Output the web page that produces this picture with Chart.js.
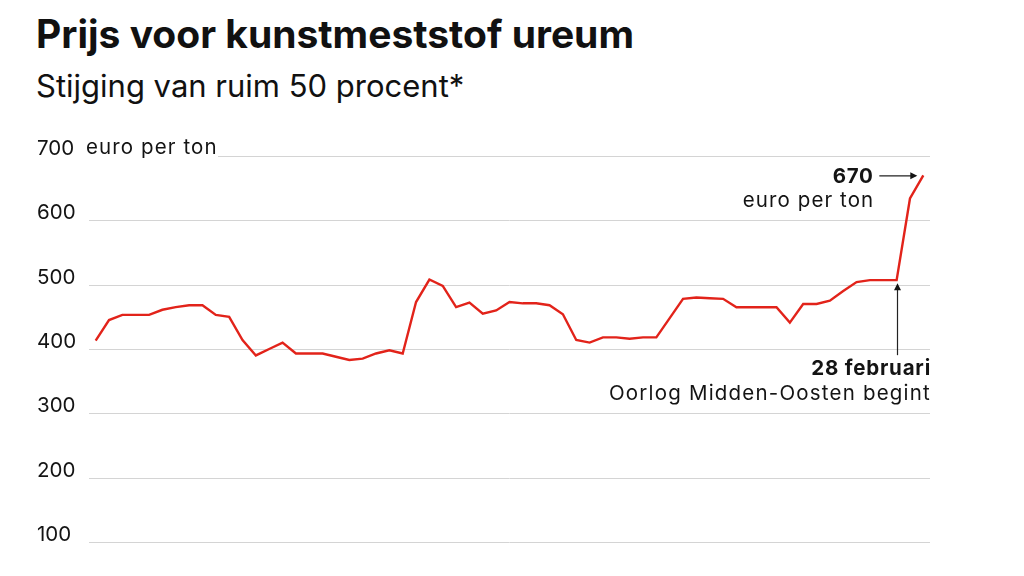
<!DOCTYPE html>
<html><head><meta charset="utf-8">
<script src="https://cdn.jsdelivr.net/npm/chart.js@4"></script>
<style>
html,body{margin:0;padding:0;background:#fff;}
#wrap{position:relative;width:1024px;height:576px;overflow:hidden;}
#title{position:absolute;left:36px;top:14px;font:700 39px Inter,sans-serif;line-height:1;color:#111;white-space:nowrap;}
#sub{position:absolute;left:36px;top:70px;font:400 31px Inter,sans-serif;line-height:1;color:#111;white-space:nowrap;}
canvas{position:absolute;left:0;top:0;}
</style></head>
<body><div id="wrap">
<div id="title">Prijs voor kunstmeststof ureum</div>
<div id="sub">Stijging van ruim 50 procent*</div>
<canvas id="c" width="1024" height="576"></canvas>
</div>
<script>
const weeks = ["1","2","3","4","5","6","7","8","9","10","11","12","13","14","15","16","17","18","19","20","21","22","23","24","25","26","27","28","29","30","31","32","33","34","35","36","37","38","39","40","41","42","43","44","45","46","47","48","49","50","51","52","53","54","55","56","57","58","59","60","61","62","63"];
const prices = [413,445,453,453,453,461,465,468,468,453,450,414,390,400,410,393,393,393,388,383,385,393,398,393,473,508,498,465,472,455,460,473,471,471,468,454,414,410,418,418,416,418,418,448,478,480,479,478,465,465,465,465,441,470,470,475,490,504,507,507,507,634,670];
const yTicks = [100,200,300,400,500,600,700];
const unitLabel = "euro per ton";
const eventIndex = 60;
const eventLabel = ["28 februari","Oorlog Midden-Oosten begint"];
const lastLabel = ["670","euro per ton"];

const ink = '#141414';
const FONT = 'Inter, sans-serif';
const gridPlugin = {
  id:'grid',
  beforeDatasetsDraw(chart){
    const {ctx, chartArea:a, scales:{y}} = chart;
    ctx.save();
    ctx.strokeStyle = '#d4d4d4'; ctx.lineWidth = 1;
    ctx.fillStyle = ink;
    ctx.textBaseline = 'alphabetic'; ctx.textAlign = 'left';
    yTicks.forEach(v=>{
      const py = Math.round(y.getPixelForValue(v))+0.5;
      let x0 = a.left;
      ctx.font = '400 20.5px ' + FONT; ctx.letterSpacing = '0px';
      ctx.fillText(String(v), 37, py-1.5);
      if(v===700){
        ctx.letterSpacing = '1.1px';
        ctx.fillText(unitLabel, 86, py-2.5);
        x0 = 218;
      }
      ctx.beginPath(); ctx.moveTo(x0,py); ctx.lineTo(a.right,py); ctx.stroke();
    });
    ctx.restore();
  },
  afterDatasetsDraw(chart){
    const {ctx, scales:{x,y}} = chart;
    ctx.save();
    ctx.fillStyle = ink; ctx.strokeStyle = '#222'; ctx.lineWidth = 1.2;
    ctx.textAlign='right'; ctx.textBaseline='alphabetic';
    // last value annotation
    const lx = x.getPixelForValue(prices.length-1), ly = y.getPixelForValue(prices[prices.length-1]);
    ctx.font = '700 20.5px ' + FONT; ctx.letterSpacing = '0.6px';
    ctx.fillText(lastLabel[0], lx-50, ly+8);
    ctx.font = '400 20.5px ' + FONT; ctx.letterSpacing = '1.1px';
    ctx.fillText(lastLabel[1], lx-49, ly+32);
    ctx.beginPath(); ctx.moveTo(lx-44, ly+0.5); ctx.lineTo(lx-8, ly+0.5); ctx.stroke();
    ctx.beginPath(); ctx.moveTo(lx-6, ly+0.5); ctx.lineTo(lx-13, ly-3); ctx.lineTo(lx-13, ly+4); ctx.closePath(); ctx.fill();
    // event annotation
    const ex = Math.round(x.getPixelForValue(eventIndex))+0.5, ey = y.getPixelForValue(prices[eventIndex]);
    ctx.beginPath(); ctx.moveTo(ex, ey+8); ctx.lineTo(ex, ey+75); ctx.stroke();
    ctx.beginPath(); ctx.moveTo(ex, ey+3); ctx.lineTo(ex-3.5, ey+10); ctx.lineTo(ex+3.5, ey+10); ctx.closePath(); ctx.fill();
    ctx.font = '700 20.5px ' + FONT; ctx.letterSpacing = '0.8px';
    ctx.fillText(eventLabel[0], 931, ey+94.5);
    ctx.font = '400 20.5px ' + FONT; ctx.letterSpacing = '1.2px';
    ctx.fillText(eventLabel[1], 931, ey+120);
    ctx.restore();
  }
};

new Chart(document.getElementById('c'), {
  type:'line',
  data:{labels:weeks, datasets:[{data:prices, borderColor:'#e2231a', borderWidth:2.4, pointRadius:0, tension:0, fill:false, clip:false}]},
  options:{
    responsive:false, animation:false,
    layout:{padding:{left:89,right:94,top:156,bottom:34}},
    plugins:{legend:{display:false}, tooltip:{enabled:false}},
    scales:{
      x:{display:false, offset:true},
      y:{display:false, min:100, max:700}
    }
  },
  plugins:[gridPlugin]
});
</script>
</body></html>
